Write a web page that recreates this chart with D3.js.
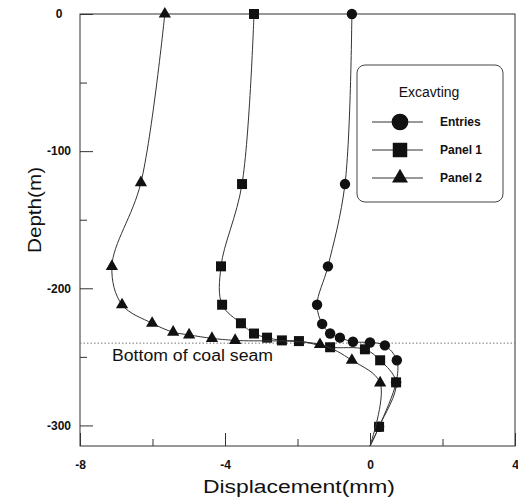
<!DOCTYPE html>
<meta charset="utf-8">
<style>
  body { margin: 0; background: white; }
  .tick text { font-family: "Liberation Sans", Arial, sans-serif; font-size: 12px; font-weight: bold; fill: #111; }
  .axisTitle { font-family: "Liberation Sans", Arial, sans-serif; font-size: 18px; fill: #111; }
  .legendText { font-family: "Liberation Sans", Arial, sans-serif; font-size: 12px; font-weight: bold; fill: #111; }
</style>
<body>
<script src="https://cdn.jsdelivr.net/npm/d3@7"></script>
<script>

// data: displacement (mm) vs depth (m)
const entriesX     = [-0.50, -0.69, -1.16, -1.46, -1.32, -1.10, -0.83, -0.47, 0.00, 0.41, 0.74, 0.72, 0.25, 0.00]
const entriesDepth = [0, -124, -184, -212, -226, -233, -236, -239, -239.5, -241.6, -252.5, -268.6, -301, -315]

const panel1X     = [-3.20, -3.53, -4.11, -4.08, -3.56, -3.20, -2.84, -2.43, -1.96, -1.10, -0.14, 0.28, 0.72, 0.25, 0.00]
const panel1Depth = [0, -124, -184, -212, -225.5, -233, -236, -238, -238.5, -243, -244.5, -252.5, -268.6, -301, -315]

const panel2X     = [-5.66, -6.32, -7.12, -6.84, -6.01, -5.43, -4.99, -4.36, -3.72, -1.38, -0.50, 0.28, 0.00]
const panel2Depth = [0, -123, -184, -212, -225.5, -232, -234, -236.5, -238, -241, -252.5, -269, -315]

const seriesNames = ["Entries", "Panel 1", "Panel 2"]
const legendTitle = "Excavting"
const seamDepth = -240
const seamLabel = "Bottom of coal seam"

const xMajor = [-8, -4, 0, 4], xMinor = [-6, -2, 2]
const yMajor = [0, -100, -200, -300], yMinor = [-50, -150, -250]

const plot = {left: 80, right: 515, top: 14, bottom: 446}

const svg = d3.select("body").append("svg")
    .attr("width", 518)
    .attr("height", 500)

const x = d3.scaleLinear().domain([-8, 4]).range([plot.left, plot.right])
const y = d3.scaleLinear().domain([-315, 0]).range([plot.bottom, plot.top])

// plain hyphen for negatives, like the original
const fmt = d => String(d)

// axes, ticks pointing inward
svg.append("g")
  .attr("transform", `translate(0,${plot.bottom})`)
  .call(d3.axisBottom(x).tickValues(xMajor).tickSizeInner(-13).tickSizeOuter(0).tickPadding(14).tickFormat(fmt))
svg.append("g")
  .attr("transform", `translate(0,${plot.bottom})`)
  .call(d3.axisBottom(x).tickValues(xMinor).tickSizeInner(-7).tickSizeOuter(0).tickFormat(""))

const gy = svg.append("g")
  .attr("transform", `translate(${plot.left},0)`)
  .call(d3.axisLeft(y).tickValues(yMajor).tickSizeInner(-13).tickSizeOuter(0).tickPadding(21).tickFormat(fmt))
gy.selectAll("text").attr("text-anchor", "middle")
svg.append("g")
  .attr("transform", `translate(${plot.left},0)`)
  .call(d3.axisLeft(y).tickValues(yMinor).tickSizeInner(-7).tickSizeOuter(0).tickFormat(""))

svg.selectAll(".domain").remove()
svg.selectAll(".tick line").attr("stroke", "#333")

svg.append("rect")
  .attr("x", plot.left).attr("y", plot.top)
  .attr("width", plot.right - plot.left).attr("height", plot.bottom - plot.top)
  .attr("fill", "none")
  .attr("stroke", "#333")
  .attr("stroke-width", 1)

// coal seam
svg.append("line")
  .attr("x1", plot.left).attr("x2", plot.right)
  .attr("y1", y(seamDepth)).attr("y2", y(seamDepth))
  .attr("stroke", "#777")
  .attr("stroke-dasharray", "1.5,2")
svg.append("text")
  .attr("class", "axisTitle")
  .attr("x", 112).attr("y", y(seamDepth) + 18)
  .style("font-size", "16px")
  .attr("textLength", 161).attr("lengthAdjust", "spacingAndGlyphs")
  .text(seamLabel)

// series
const series = [
  {name: seriesNames[0], xs: entriesX, ds: entriesDepth, sym: d3.symbolCircle, size: 85, lsize: 220},
  {name: seriesNames[1], xs: panel1X, ds: panel1Depth, sym: d3.symbolSquare, size: 100, lsize: 210},
  {name: seriesNames[2], xs: panel2X, ds: panel2Depth, sym: d3.symbolTriangle, size: 65, lsize: 110}
]

const line = d3.line()
  .x(d => x(d[0]))
  .y(d => y(d[1]))
  .curve(d3.curveCatmullRom.alpha(0.5))

series.forEach(s => {
  const pts = s.xs.map((v, i) => [v, s.ds[i]])
  svg.append("path")
    .datum(pts)
    .attr("d", line)
    .attr("fill", "none")
    .attr("stroke", "#333")
    .attr("stroke-width", 1)
  svg.selectAll(null)
    .data(pts.filter(p => p[1] > -310))
    .enter().append("path")
      .attr("transform", d => `translate(${x(d[0])},${y(d[1])})`)
      .attr("d", d3.symbol(s.sym, s.size))
      .attr("fill", "#111")
})

// axis titles
svg.append("text")
  .attr("class", "axisTitle")
  .attr("x", 299).attr("y", 493)
  .attr("text-anchor", "middle")
  .attr("textLength", 192).attr("lengthAdjust", "spacingAndGlyphs")
  .text("Displacement(mm)")

svg.append("text")
  .attr("class", "axisTitle")
  .attr("transform", "translate(41,210) rotate(-90)")
  .attr("text-anchor", "middle")
  .attr("textLength", 86).attr("lengthAdjust", "spacingAndGlyphs")
  .text("Depth(m)")

// legend
const lg = svg.append("g")
lg.append("rect")
  .attr("x", 357).attr("y", 65)
  .attr("width", 146).attr("height", 137)
  .attr("rx", 8)
  .attr("fill", "white")
  .attr("stroke", "#444")
lg.append("text")
  .attr("class", "legendText")
  .attr("x", 429).attr("y", 97)
  .attr("text-anchor", "middle")
  .style("font-size", "14px")
  .style("font-weight", "normal")
  .text(legendTitle)

const rowY = [122, 150, 178]
series.forEach((s, i) => {
  lg.append("line")
    .attr("x1", 372).attr("x2", 423)
    .attr("y1", rowY[i]).attr("y2", rowY[i])
    .attr("stroke", "#333")
  lg.append("path")
    .attr("transform", `translate(400,${rowY[i]})`)
    .attr("d", d3.symbol(s.sym, s.lsize))
    .attr("fill", "#111")
  lg.append("text")
    .attr("class", "legendText")
    .attr("x", 440).attr("y", rowY[i] + 4)
    .text(s.name)
})

</script>
</body>
</html>
